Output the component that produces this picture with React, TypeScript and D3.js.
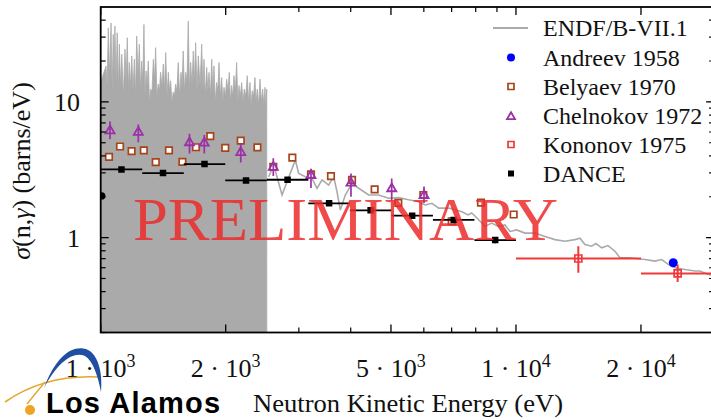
import React from 'react';
import * as d3 from 'd3';

// ---------- DATA ----------
// ENDF/B-VII.1 resolved resonance region (peaks and floors between them)
const resStartE = 1000;
const resStartV = 14;
const resEndE = 2512;
const resPeakE = [1030,1043,1059,1072,1082,1096,1109,1124,1144,1159,1172,1188,1205,1221,1239,1255,1271,1286,1302,1319,1339,1356,1376,1394,1415,1434,1455,1474,1495,1515,1537,1561,1580,1602,1625,1647,1671,1693,1718,1751,1773,1800,1823,1851,1874,1902,1927,1956,1981,2011,2040,2067,2094,2125,2153,2185,2217,2254,2288,2317,2352,2383,2419,2455,2487,2511];
const resPeakV = [18.4,35.1,38.2,31.4,36.2,32.3,26.6,22.4,24.4,29.7,19.5,21.8,20.6,30.5,26.6,20.0,37.2,16.9,20.0,12.4,20.6,25.1,13.5,16.5,19.0,23.1,16.5,14.3,11.8,13.5,19.5,16.5,23.7,16.5,39.3,19.5,23.7,27.3,21.8,26.6,20.6,17.9,16.5,20.6,18.4,13.9,19.5,15.1,12.8,14.7,16.5,13.2,15.6,19.5,13.2,13.9,12.4,15.6,13.9,12.1,15.1,12.4,14.7,12.4,12.8,12.4];
const resValleyV = [13,15,12,16,14,12,13,11,14,12,13,12,11,15,12,14,11,13,10,12,14,11,12,13,12,11,12,10,11,12,11,13,12,14,12,13,14,12,13,12,11,12,11,12,10,12,11,10,11,12,10,11,12,10,11,10,11,10,9.5,11,10,9.5,10,9.5,9];

// ENDF/B-VII.1 above the resolved region
const endfE = [2538,2610,2733,2810,2942,2998,3110,3227,3318,3412,3540,3639,3707,3775,3882,4029,4181,4419,4671,4937,5220,5515,5830,6047,6275,6514,6883,7413,7664,7823,8012,8422,8740,9066,9408,9674,10039,10512,11110,11744,12410,13122,13868,14260,14660,15215,15580,16085,16655,17315,17800,18640,19700,20450,21610,22430,23260,24150,25520,26980,27740,29040,30000];
const endfV = [2.81,3.42,2.06,2.58,3.72,2.97,2.81,2.73,2.31,2.66,2.44,2.81,2.18,1.60,2.06,2.51,2.31,2.06,2.06,1.95,1.97,1.90,1.84,1.74,1.79,1.65,1.65,1.55,1.47,1.52,1.42,1.21,1.28,1.21,1.24,1.11,1.14,1.08,1.08,1.02,0.967,0.94,0.967,0.99,0.889,0.864,0.904,0.841,0.874,0.794,0.710,0.710,0.699,0.690,0.671,0.690,0.635,0.600,0.583,0.567,0.567,0.536,0.527];

const andreevE = [23920];
const andreevV = [0.653];

const belyaevE = [1047,1113,1187,1270,1357,1460,1573,1696,1836,1995,2174,2384,2604,2894,3209,3585,4029,4568,5208,5983,7002,8236,9873];
const belyaevV = [3.93,4.69,4.34,4.39,3.60,4.40,3.61,4.63,5.59,4.58,5.18,4.62,3.32,3.88,2.92,2.84,2.66,2.27,1.80,2.06,1.32,1.81,1.48];

const chelnokovE = [1053,1232,1636,1776,2174,2604,3209,4006,5021,6006];
const chelnokovV = [6.17,6.01,5.04,5.00,4.26,3.32,2.89,2.54,2.31,2.06];
const chelnokovLo = [5.30,5.04,4.17,4.17,3.57,2.84,2.32,2.00,1.87,1.80];
const chelnokovHi = [7.17,6.82,5.83,5.71,4.95,3.85,3.22,2.97,2.73,2.38];

const kononovE = [14130,24510];
const kononovV = [0.702,0.545];
const kononovLo = [0.552,0.471];
const kononovHi = [0.864,0.635];
const kononovELo = [10000,20000];
const kononovEHi = [20000,30000];

const danceELo = [1000,1259,1585,1995,2512,3162,3981,5012,6310,7943];
const danceEHi = [1259,1585,1995,2512,3162,3981,5012,6310,7943,10000];
const danceV = [3.18,2.99,3.48,2.64,2.67,1.79,1.59,1.45,1.35,0.96];
const danceErr = [0.12,0.12,0.13,0.10,0.10,0.07,0.06,0.06,0.06,0.05];
const danceEdgeE = [1006];
const danceEdgeV = [2.03];

const xMajorTicks = [1000,2000,5000,10000,20000];
const xTickMant = ['1','2','5','1','2'];
const xTickExp = ['3','3','3','4','4'];
const xMinorTicks = [3000,4000,6000,7000,8000,9000,30000];
const yMajorTicks = [1,10];
const yTickLabels = ['1','10'];
const yMinorTicks = [0.2,0.3,0.4,0.5,0.6,0.7,0.8,0.9,2,3,4,5,6,7,8,9,20,30,40];

const legendLabels = ['ENDF/B-VII.1','Andreev 1958','Belyaev 1970','Chelnokov 1972','Kononov 1975','DANCE'];

// ---------- STYLE ----------
const GRAY = '#aaaaaa';
const BROWN = '#a8441c';
const PURPLE = '#9b30a8';
const RED = '#f03838';
const BLUE = '#0000ff';
const SERIF = '"Liberation Serif", "Times New Roman", serif';

export default function App() {
  const L = 100.7, R = 714.1, T = 7, B = 332.5;
  const x = d3.scaleLog().domain([1000, 30000]).range([L, R]);
  const y = d3.scaleLog().domain([0.2, 50]).range([B, T]);
  const yc = (v: number) => y(Math.max(v, 0.2));

  // resonance path points
  const resPts: { e: number; v: number }[] = [{ e: resStartE, v: resStartV }];
  resPeakE.forEach((e, i) => {
    resPts.push({ e, v: resPeakV[i] });
    if (i < resPeakE.length - 1 && i < resValleyV.length) {
      resPts.push({ e: Math.sqrt(e * resPeakE[i + 1]), v: resValleyV[i] });
    }
  });
  resPts.push({ e: resEndE, v: 0.2 });
  const area = d3.area<{ e: number; v: number }>()
    .x(d => x(d.e)).y0(B).y1(d => yc(d.v));
  const line = d3.line<number>().x((_, i) => x(endfE[i])).y(v => yc(v));

  const sq = (cx: number, cy: number, s: number) => `M${cx - s / 2},${cy - s / 2}h${s}v${s}h${-s}Z`;
  const tri = (cx: number, cy: number, s: number) => {
    const h = s * 0.866;
    return `M${cx},${cy - h * 0.62}L${cx + s / 2},${cy + h * 0.38}L${cx - s / 2},${cy + h * 0.38}Z`;
  };

  const legendY = [28, 57.5, 86.5, 115.5, 144.5, 173.5];
  const lx = 511;

  return (
    <svg width={711} height={420} style={{ position: 'absolute', left: 0, top: 0, background: '#fff' }}
      fontFamily={SERIF}>
      <defs>
        <clipPath id="plot"><rect x={L} y={T} width={R - L} height={B - T} /></clipPath>
      </defs>
      <rect x={0} y={0} width={711} height={420} fill="#fff" />

      <g clipPath="url(#plot)">
        <path d={area(resPts) || ''} fill={GRAY} stroke={GRAY} strokeWidth={0.8} />
        <path d={line(endfV) || ''} fill="none" stroke={GRAY} strokeWidth={1.6} />

        {/* Belyaev */}
        {belyaevE.map((e, i) => (
          <path key={'b' + i} d={sq(x(e), y(belyaevV[i]), 6.5)} fill="#fff" stroke={BROWN} strokeWidth={1.7} />
        ))}

        {/* Chelnokov */}
        {chelnokovE.map((e, i) => (
          <g key={'c' + i}>
            <line x1={x(e)} x2={x(e)} y1={y(chelnokovHi[i])} y2={y(chelnokovLo[i])} stroke={PURPLE} strokeWidth={1.7} />
            <path d={tri(x(e), y(chelnokovV[i]), 9)} fill="none" stroke={PURPLE} strokeWidth={1.8} />
          </g>
        ))}

        {/* Kononov */}
        {kononovE.map((e, i) => (
          <g key={'k' + i}>
            <line x1={x(kononovELo[i])} x2={x(kononovEHi[i])} y1={y(kononovV[i])} y2={y(kononovV[i])} stroke={RED} strokeWidth={2} />
            <line x1={x(e)} x2={x(e)} y1={y(kononovHi[i])} y2={y(kononovLo[i])} stroke={RED} strokeWidth={2} />
            <path d={sq(x(e), y(kononovV[i]), 7)} fill="none" stroke={RED} strokeWidth={1.7} />
          </g>
        ))}

        {/* DANCE */}
        {danceV.map((v, i) => {
          const cx = x(Math.sqrt(danceELo[i] * danceEHi[i]));
          return (
            <g key={'d' + i}>
              <line x1={x(danceELo[i])} x2={x(danceEHi[i])} y1={y(v)} y2={y(v)} stroke="#000" strokeWidth={1.8} />
              <line x1={cx} x2={cx} y1={y(v + danceErr[i])} y2={y(v - danceErr[i])} stroke="#000" strokeWidth={1.6} />
              <path d={sq(cx, y(v), 6.5)} fill="#000" />
            </g>
          );
        })}
        {danceEdgeE.map((e, i) => (
          <circle key={'de' + i} cx={x(e)} cy={y(danceEdgeV[i])} r={3.6} fill="#000" />
        ))}

        {/* Andreev */}
        {andreevE.map((e, i) => (
          <circle key={'a' + i} cx={x(e)} cy={y(andreevV[i])} r={4.5} fill={BLUE} />
        ))}
      </g>

      {/* Frame and ticks */}
      <rect x={L} y={T} width={R - L} height={B - T} fill="none" stroke="#000" strokeWidth={1.8} />
      {xMajorTicks.map(t => (
        <g key={'xm' + t}>
          <line x1={x(t)} x2={x(t)} y1={B} y2={B - 8} stroke="#000" strokeWidth={1.3} />
          <line x1={x(t)} x2={x(t)} y1={T} y2={T + 8} stroke="#000" strokeWidth={1.3} />
        </g>
      ))}
      {xMinorTicks.map(t => (
        <g key={'xn' + t}>
          <line x1={x(t)} x2={x(t)} y1={B} y2={B - 5} stroke="#000" strokeWidth={1.2} />
          <line x1={x(t)} x2={x(t)} y1={T} y2={T + 5} stroke="#000" strokeWidth={1.2} />
        </g>
      ))}
      {yMajorTicks.map(t => (
        <g key={'ym' + t}>
          <line x1={L} x2={L + 8} y1={y(t)} y2={y(t)} stroke="#000" strokeWidth={1.3} />
          <line x1={R} x2={R - 8} y1={y(t)} y2={y(t)} stroke="#000" strokeWidth={1.3} />
        </g>
      ))}
      {yMinorTicks.map(t => (
        <g key={'yn' + t}>
          <line x1={L} x2={L + 5} y1={y(t)} y2={y(t)} stroke="#000" strokeWidth={1.2} />
          <line x1={R} x2={R - 5} y1={y(t)} y2={y(t)} stroke="#000" strokeWidth={1.2} />
        </g>
      ))}

      {/* Tick labels */}
      {xMajorTicks.map((t, i) => (
        <text key={'xl' + t} x={x(t)} y={377} textAnchor="middle" fontSize={26} fill="#111">
          {xTickMant[i]} · 10<tspan dy={-10} fontSize={18}>{xTickExp[i]}</tspan>
        </text>
      ))}
      {yMajorTicks.map((t, i) => (
        <text key={'yl' + t} x={80} y={y(t) + 9} textAnchor="end" fontSize={26} fill="#111">{yTickLabels[i]}</text>
      ))}

      {/* Axis titles */}
      <text x={253} y={412} fontSize={26} fill="#111" textLength={310} lengthAdjust="spacingAndGlyphs">Neutron Kinetic Energy (eV)</text>
      <text transform="translate(30,171) rotate(-90)" textAnchor="middle" fontSize={26} fill="#111">
        <tspan fontStyle="italic">σ</tspan>(n,<tspan fontStyle="italic">γ</tspan>) (barns/eV)
      </text>

      {/* Legend */}
      <line x1={493} x2={528} y1={legendY[0]} y2={legendY[0]} stroke={GRAY} strokeWidth={2} />
      <circle cx={lx} cy={legendY[1]} r={4} fill={BLUE} />
      <path d={sq(lx, legendY[2], 6)} fill="#fff" stroke={BROWN} strokeWidth={1.7} />
      <path d={tri(lx, legendY[3] + 1, 8)} fill="none" stroke={PURPLE} strokeWidth={1.8} />
      <path d={sq(lx, legendY[4], 6)} fill="#fff" stroke={RED} strokeWidth={1.7} />
      <path d={sq(lx, legendY[5], 6)} fill="#000" />
      {legendLabels.map((s, i) => (
        <text key={'lg' + i} x={543} y={legendY[i] + 8} fontSize={24} fill="#111">{s}</text>
      ))}

      {/* Watermark */}
      <text x={133} y={240} fontSize={62} fill="#ee2c2c" opacity={0.85} textLength={425} lengthAdjust="spacingAndGlyphs">PRELIMINARY</text>

      {/* Los Alamos logo */}
      <g>
        <path d="M5,402 Q45,374 100,377" fill="none" stroke="#e6a52a" strokeWidth={1.6} />
        <path d="M45,382 Q35,394 27,404" fill="none" stroke="#e6a52a" strokeWidth={1.4} />
        <path d="M44,388 C56,356 72,345 86,349 C97,353 103,370 101,392 C98,376 93,361 85,356 C73,351 58,362 44,388 Z" fill="#1f4ea3" />
        <circle cx={30} cy={410} r={5} fill="#f0a225" />
        <text x={46} y={413} fontFamily='"Liberation Sans", Arial, sans-serif' fontWeight="bold" fontSize={29} letterSpacing={1.2} fill="#000">Los Alamos</text>
      </g>
    </svg>
  );
}
